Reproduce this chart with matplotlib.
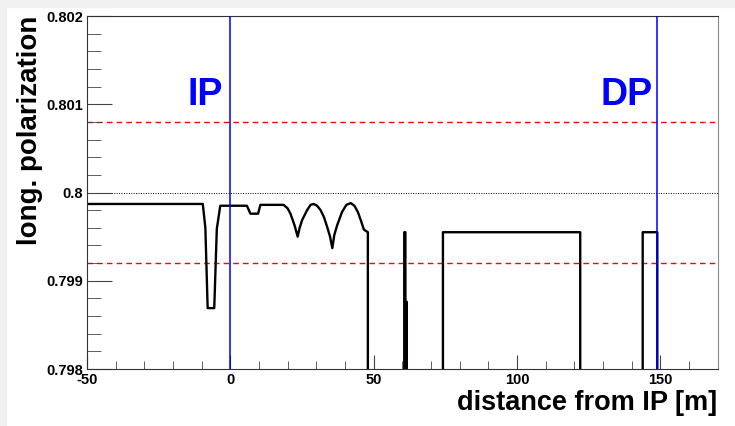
import matplotlib
matplotlib.use("Agg")
import matplotlib.pyplot as plt
import matplotlib.patches as patches
import numpy as np

plt.rcParams['font.family'] = ['Liberation Sans', 'DejaVu Sans']
plt.rcParams['font.weight'] = 'bold'

# polarization along the beamline (values below 0.798 are off the plot)
low = 0.7975
dist = [-50, -9.6, -8.7, -7.9, -5.6, -4.7, -3.5, 5.8, 7.0, 9.7, 10.5,
        18.6, 20.0, 21.0, 22.5, 23.5, 24.2, 25.1, 26.8, 28.0, 29.1, 30.3,
        31.5, 32.7, 33.8, 34.8, 35.6, 36.3, 37.3, 39.0, 40.5, 42.0, 43.3,
        44.5, 45.6, 46.6, 48.0, 48.0,
        60.7, 60.7, 61.1, 61.1, 61.4, 61.4, 61.6, 61.6,
        74.2, 74.2, 122.1, 122.1, 143.9, 143.9, 149.0, 149.0, 170]
pol = [0.79987, 0.79987, 0.79960, 0.79869, 0.79869, 0.79959, 0.79985,
       0.79985, 0.79976, 0.79976, 0.79986,
       0.79986, 0.79982, 0.79976, 0.79962, 0.79950, 0.79960, 0.79969,
       0.79980, 0.79986, 0.79987, 0.79985, 0.79980, 0.79972, 0.79961,
       0.79950, 0.79937, 0.79952, 0.79963, 0.79978, 0.79986, 0.79988,
       0.79985, 0.79978, 0.79968, 0.79958, 0.79955, low,
       low, 0.79955, 0.79955, low, low, 0.79876, 0.79876, low,
       low, 0.79955, 0.79955, low, low, 0.79955, 0.79955, low, low]

ip_pos = 0.0
dp_pos = 149.0
nominal = 0.8
tolerance = [0.8008, 0.7992]

xticks = [-50, 0, 50, 100, 150]
xticklabels = ['-50', '0', '50', '100', '150']
yticks = [0.798, 0.799, 0.8, 0.801, 0.802]
yticklabels = ['0.798', '0.799', '0.8', '0.801', '0.802']

fig = plt.figure(figsize=(7.35, 4.26), dpi=100)
fig.patch.set_facecolor('white')
fig.add_artist(patches.Rectangle((0, 0), 6 / 735, 1, transform=fig.transFigure,
                                 color='#f0f0f0', zorder=0))
fig.add_artist(patches.Rectangle((0, 1 - 7 / 426), 1, 7 / 426, transform=fig.transFigure,
                                 color='#f0f0f0', zorder=0))

ax = fig.add_axes([87 / 735, 1 - 369 / 426, (717.5 - 87) / 735, (369 - 16) / 426])

for t in tolerance:
    ax.plot([-50, 170], [t, t], color='#ff0000', lw=1.0, dashes=(4, 3), zorder=1.5)
ax.axhline(nominal, color='black', lw=0.7, dashes=(1, 1.5), zorder=1)

ax.plot(dist, pol, color='black', lw=1.7, zorder=2)

ax.axvline(ip_pos, color='#0000ff', lw=1.1, zorder=3)
ax.axvline(dp_pos, color='#0000ff', lw=1.1, zorder=3)
ax.text(-2.5, 0.80099, 'IP', color='#0000ff', fontsize=27, fontweight='bold',
        ha='right', va='baseline')
ax.text(147.5, 0.80099, 'DP', color='#0000ff', fontsize=27, fontweight='bold',
        ha='right', va='baseline')

ax.set_xlim(-50, 170)
ax.set_ylim(0.798, 0.802)
ax.set_xticks(xticks)
ax.set_xticklabels(xticklabels)
ax.set_yticks(yticks)
ax.set_yticklabels(yticklabels)
ax.set_xticks(np.arange(-50, 171, 10), minor=True)
ax.set_yticks(np.arange(0.798, 0.80201, 0.0002), minor=True)
ax.tick_params(which='both', direction='in', labelsize=10.5, colors='#444444',
               labelcolor='black')
ax.tick_params(axis='x', which='major', length=10, pad=3)
ax.tick_params(axis='x', which='minor', length=5.5)
ax.tick_params(axis='y', which='major', length=18, pad=3)
ax.tick_params(axis='y', which='minor', length=10)
ax.tick_params(top=False, right=False)

for s in ['left', 'bottom', 'top']:
    ax.spines[s].set_color('#333333')
ax.spines['right'].set_color('#888888')

ax.set_xlabel('distance from IP [m]', fontsize=19.5, fontweight='bold', loc='right')
ax.xaxis.set_label_coords(1.0, -0.06)
ax.set_ylabel('long. polarization', fontsize=20, fontweight='bold', loc='top')
ax.yaxis.set_label_coords(-0.069, 1.0)

fig.savefig('out.png', dpi=100)
